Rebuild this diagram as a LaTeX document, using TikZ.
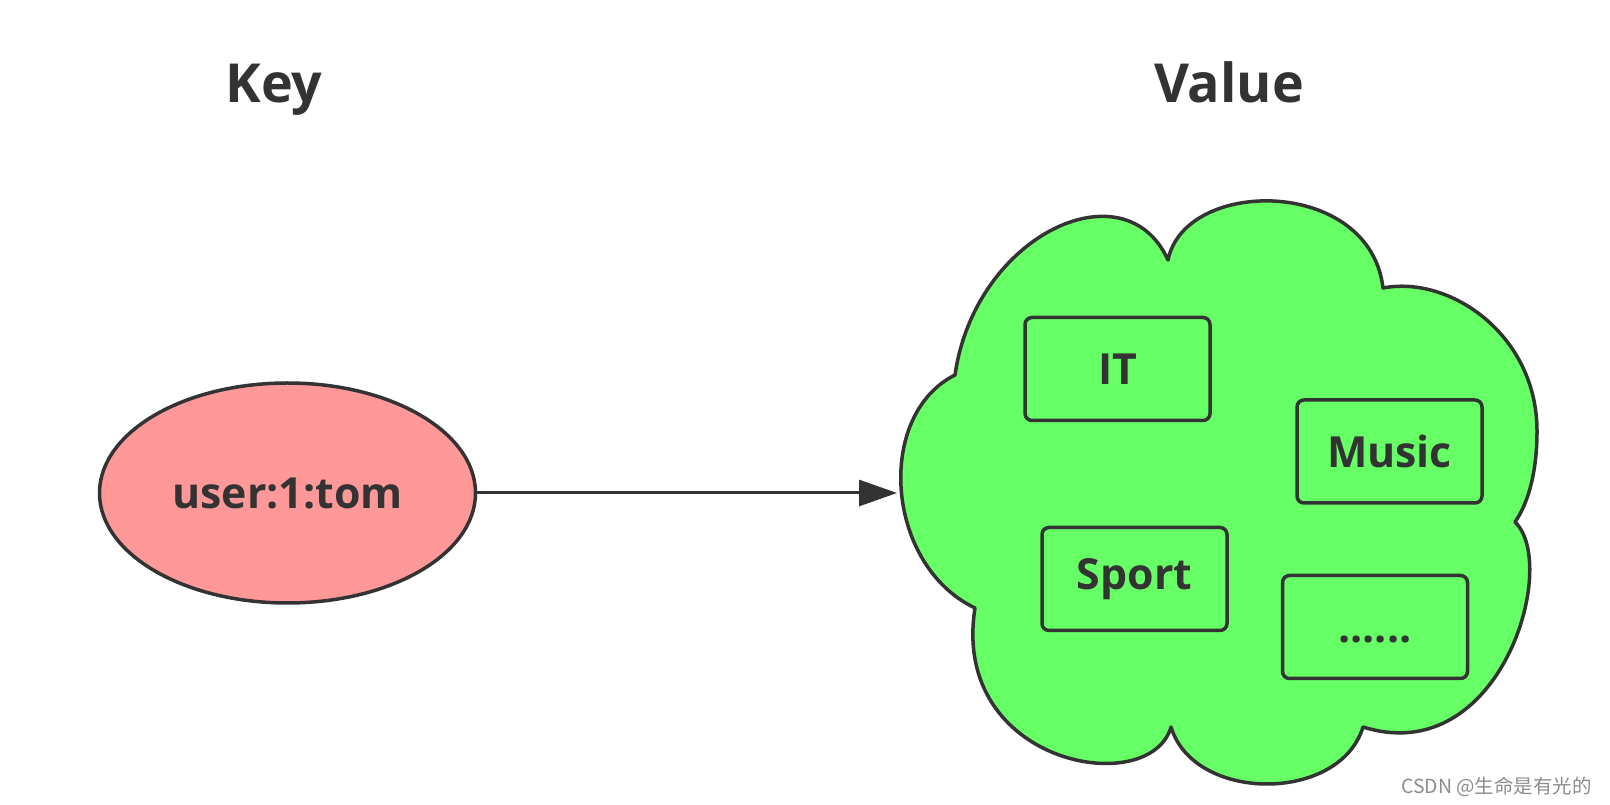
\documentclass[tikz,border=0pt]{standalone}
\usepackage{fontspec}
\setmainfont{Open Sans}
\newfontfamily\cjkfont{Noto Sans CJK SC}
\usetikzlibrary{shapes.geometric,arrows.meta}
\definecolor{keyred}{HTML}{FF9999}
\definecolor{valgreen}{HTML}{66FF66}
\definecolor{edgegray}{HTML}{333333}
\definecolor{markgray}{HTML}{8C8C8C}
\tikzset{
  title_text/.style={font=\fontsize{54}{64}\selectfont\bfseries,text=edgegray},
  key_ellipse/.style={ellipse,draw=edgegray,line width=3.5bp,fill=keyred,minimum width=376bp,minimum height=220bp,inner sep=0pt,font=\fontsize{43}{51}\selectfont\bfseries,text=edgegray},
  item_box/.style={draw=edgegray,line width=3.5bp,fill=valgreen,rounded corners=7bp,minimum width=185bp,minimum height=103bp,inner sep=0pt,font=\fontsize{43}{51}\selectfont\bfseries,text=edgegray},
  value_cloud/.style={draw=edgegray,line width=3.5bp,fill=valgreen,line join=round},
}
\begin{document}
\begin{tikzpicture}[>={Triangle[length=38bp,width=26bp]},line join=bevel,]
\useasboundingbox (0bp,0bp) rectangle (1610bp,805bp);
%%
\node (key_title) at (274bp,702bp) [title_text,anchor=base] {Key};
  \node (value_title) at (1229bp,702bp) [title_text,anchor=base] {Value};
%%
\node (node_key) at (287.5bp,312bp) [key_ellipse] {user:1:tom};
%%
\draw [value_cloud] (955bp,430bp)
  .. controls (975bp,570bp) and (1125bp,640bp) .. (1168bp,545bp)
  .. controls (1185bp,628bp) and (1370bp,628bp) .. (1383bp,517bp)
  .. controls (1450bp,530bp) and (1537bp,470bp) .. (1537bp,374bp)
  .. controls (1537bp,330bp) and (1527bp,300bp) .. (1515bp,283bp)
  .. controls (1560bp,240bp) and (1500bp,35bp) .. (1363bp,78bp)
  .. controls (1340bp,2bp) and (1194bp,2bp) .. (1171bp,78bp)
  .. controls (1150bp,5bp) and (950bp,40bp) .. (975bp,197bp)
  .. controls (885bp,240bp) and (875bp,390bp) .. cycle;
  \coordinate (value_in) at (897bp,312bp);
%
\node (node_it) at (1117.5bp,436bp) [item_box] {IT};
  \node (node_music) at (1389.5bp,353.5bp) [item_box] {Music};
  \node (node_sport) at (1134.5bp,226bp) [item_box] {Sport};
  \node (node_more) at (1375bp,178bp) [item_box] {\vphantom{I}......};
%%
\draw [edgegray,line width=3bp,->] (node_key) -- (value_in);
%
\node (csdn_mark) at (1595bp,12bp) [anchor=base east,text=markgray,font=\cjkfont\fontsize{19.5}{23}\selectfont] {CSDN @生命是有光的};
%
\end{tikzpicture}
\end{document}
